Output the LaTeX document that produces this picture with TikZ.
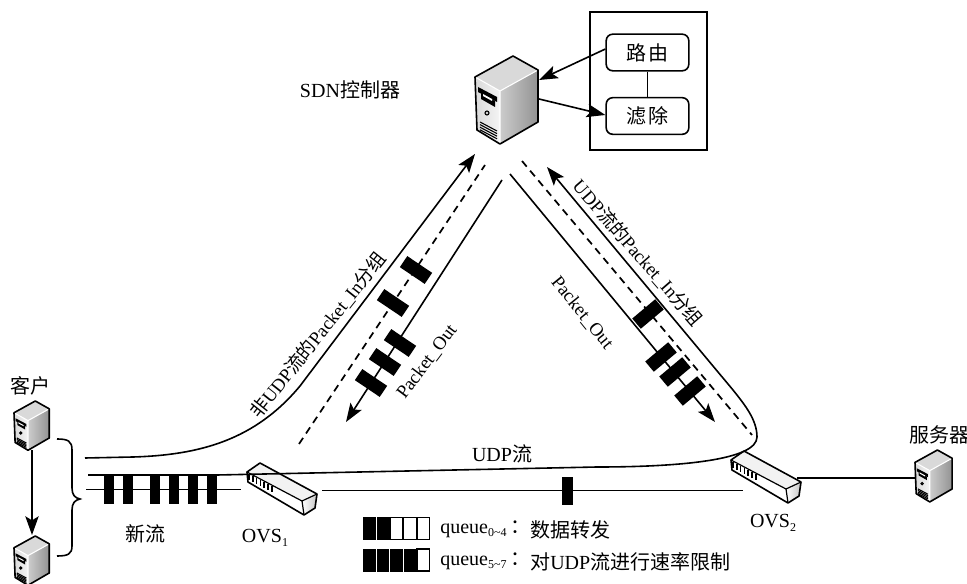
\documentclass[tikz,border=0pt]{standalone}
\usepackage{fontspec}
\setmainfont{Liberation Serif}
\newfontfamily\cjk{Noto Sans CJK SC}
\usetikzlibrary{arrows.meta}
\newcommand{\subtx}[1]{\raisebox{-.4ex}{\fontsize{9}{9}\selectfont #1}}
\tikzset{
  every node/.style={inner sep=0pt,font=\fontsize{15}{18}\selectfont},
  rotlabel/.style={font=\fontsize{14}{17}\selectfont},
  flow/.style={line width=1.2pt},
  thinflow/.style={line width=.7pt},
  dashflow/.style={line width=1.3pt,dash pattern=on 5.5pt off 4pt},
  tip/.style={-{Stealth[length=14pt,width=10pt,inset=3pt]}},
  pkt/.style={fill=black,draw=none,minimum width=22.5pt,minimum height=10pt},
  qbar/.style={fill=black,draw=none,minimum width=7.5pt,minimum height=21pt},
  funcbox/.style={draw,line width=1.2pt,rounded corners=5pt,minimum width=62pt,minimum height=27.5pt},
  server/.pic={
    \shade[left color=gray!30,right color=gray!8] (0,21)--(25,35)--(25,88)--(2,74)--cycle;
    \shade[left color=gray!40,right color=gray!85] (25,35)--(63,14)--(63,66)--(25,88)--cycle;
    \fill[gray!30] (0,21)--(38,0)--(63,14)--(25,35)--cycle;
    \draw[line width=.8pt,white] (0,21)--(25,35)--(63,14) (25,35)--(25,88);
    \fill[black] (3,31)--(22,41)--(22,46)--(3,36)--cycle;
    \fill[black] (6,37)--(20,45)--(20,51)--(6,43)--cycle;
    \fill[white] (8,38)--(17,43)--(17,45)--(8,40)--cycle;
    \draw[fill=gray!40,line width=.8pt] (12,57) circle (2);
    \foreach \k in {0,2.6,5.2,7.8}
      \draw[line width=.8pt] (5,66+\k)--(22,75+\k);
    \draw[line width=1.2pt,line join=round] (0,21)--(38,0)--(63,14)--(63,66)--(25,88)--(2,74)--cycle;
  },
  switchbox/.pic={
    \fill[gray!10] (0,0)--(13,-9)--(70,22)--(55,29)--cycle;
    \fill[white] (0,0)--(55,29)--(57,43)--(1,10)--cycle;
    \shade[left color=white,right color=gray!45] (55,29)--(70,22)--(68,36)--(57,43)--cycle;
    \foreach \k in {0,1,...,6}
      \draw[line width=1.2pt] (2+3.8*\k,2+2*\k)--(2+3.8*\k,8+2*\k);
    \draw[line width=.9pt] (0,0)--(55,29)--(70,22) (55,29)--(57,43);
    \draw[line width=1.2pt,line join=round] (0,0)--(13,-9)--(70,22)--(68,36)--(57,43)--(1,10)--cycle;
  }
}
\begin{document}
\begin{tikzpicture}[x=.75pt,y=-.75pt]
\useasboundingbox (0,0) rectangle (967,584);
% anchors
\coordinate (ctlL) at (539,80);
\coordinate (ctlR) at (539,99);
\coordinate (inLtip) at (475,154);
\coordinate (inLstart) at (85,458);
\coordinate (dashLa) at (299,444);
\coordinate (dashLb) at (485,165);
\coordinate (outLa) at (502,180);
\coordinate (outLb) at (346,422);
\coordinate (inRtip) at (547,167);
\coordinate (udpstart) at (88,475);
\coordinate (dashRa) at (522,161);
\coordinate (dashRb) at (752,435);
\coordinate (outRa) at (510,174);
\coordinate (outRb) at (715,422);
\coordinate (lowA) at (86,489.5);
\coordinate (lowB) at (241,489.5);
\coordinate (midA) at (322,490);
\coordinate (midB) at (743,490);
\coordinate (sw2out) at (797,478);
\coordinate (srvin) at (915,478);
\coordinate (cl1) at (32,450);
\coordinate (cl2) at (32,535);
% devices
\pic at (475,56) {server};
\pic[scale=.56] at (14,401) {server};
\pic[scale=.56] at (14,536) {server};
\pic[scale=.59] at (915,450) {server};
\pic at (247,472) {switchbox};
\pic at (731,460) {switchbox};
% controller box
\node[draw,line width=1.6pt,minimum width=88pt,minimum height=103pt] (ctlbox) at (648.5,81) {};
\node[funcbox] (route) at (647.5,52.5) {\cjk 路\hspace{2pt}由};
\node[funcbox] (filter) at (647.5,116) {\cjk 滤\hspace{2pt}除};
\draw[thinflow,line width=1pt] (route) -- (filter);
\draw[flow,tip] (route.west |- 0,49) -- (ctlL);
\draw[flow,tip] (ctlR) -- (filter.west |- 0,115);
% flows
\draw[flow,tip] (inLstart) -- (133,457) .. controls (200,455) and (255,440) .. (300,386) -- (inLtip);
\draw[dashflow] (dashLa) -- (dashLb);
\draw[flow,tip] (outLa) -- (outLb);
\draw[flow,tip] (udpstart) -- (217,475) -- (597,467) .. controls (680,467) and (757,460) .. (757,437) .. controls (757,420) and (745,405) .. (733,390) -- (inRtip);
\draw[dashflow] (dashRa) -- (dashRb);
\draw[flow,tip] (outRa) -- (outRb);
\draw[flow] (lowA) -- (lowB);
\draw[thinflow] (midA) -- (midB);
\draw[flow] (sw2out) -- (srvin);
\draw[flow,tip] (cl1) -- (cl2);
% brace
\draw[flow] (57,439) .. controls (68,439) and (72,441) .. (72,450) -- (72,488) .. controls (72,495) and (75,498) .. (80,499) .. controls (75,500) and (72,503) .. (72,510) -- (72,546) .. controls (72,554) and (68,556) .. (57,556);
% packets
\node[pkt,rotate=-34] (p1) at (416,270) {};
\node[pkt,rotate=-34] (p2) at (393,303) {};
\node[pkt,rotate=-34] (p3) at (400,343) {};
\node[pkt,rotate=-34] (p4) at (385,362) {};
\node[pkt,rotate=-34] (p5) at (371,383) {};
\node[pkt,rotate=40] (p6) at (648,314) {};
\node[pkt,rotate=40] (p7) at (661,357) {};
\node[pkt,rotate=40] (p8) at (675,372) {};
\node[pkt,rotate=40] (p9) at (690,391) {};
\foreach \i/\x in {1/109,2/128,3/155,4/174,5/193,6/212}
  \node[qbar] (q\i) at (\x,489.5) {};
\node[qbar,minimum width=8pt] (q7) at (567.5,491) {};
% legend
\foreach \j/\yy/\nb in {1/528.5/2,2/560/4}{
  \foreach \c in {0,1,...,4}{
    \pgfmathsetmacro{\xx}{363+\c*13.5}
    \ifnum\c<\nb
      \fill (\xx,\yy-11.5) rectangle ++(12.6,23);
    \else
      \draw[line width=.9pt] (\xx,\yy-11) rectangle ++(12.6,22);
    \fi
  }
}
% labels
\node (lsdn) at (350,90) {SDN{\cjk 控制器}};
\node (lcl) at (30,386) {\cjk 客户};
\node (lnew) at (145,534) {\cjk 新流};
\node (lovs1) at (265,538) {OVS\subtx{1}};
\node (ludp) at (502,454) {UDP{\cjk 流}};
\node (lsrv) at (939,435) {\cjk 服务器};
\node (lovs2) at (773,523) {OVS\subtx{2}};
\node[rotlabel,rotate=51.5] (lin1) at (318,335) {{\cjk 非}UDP{\cjk 流的}Packet\_In{\cjk 分组}};
\node[rotlabel,rotate=-49] (lin2) at (638,253) {UDP{\cjk 流的}Packet\_In{\cjk 分组}};
\node[rotlabel,rotate=53] (lo1) at (427,362) {Packet\_Out};
\node[rotlabel,rotate=-51] (lo2) at (582,313) {Packet\_Out};
\node[anchor=west] (lq1) at (440,529) {queue\subtx{0\string~4}\hspace{3pt}{\cjk ：}};
\node[anchor=west] (lq1t) at (530,530) {\cjk 数据转发};
\node[anchor=west] (lq2) at (440,561) {queue\subtx{5\string~7}\hspace{3pt}{\cjk ：}};
\node[anchor=west] (lq2t) at (530,562) {{\cjk 对}UDP{\cjk 流进行速率限制}};
\end{tikzpicture}
\end{document}
